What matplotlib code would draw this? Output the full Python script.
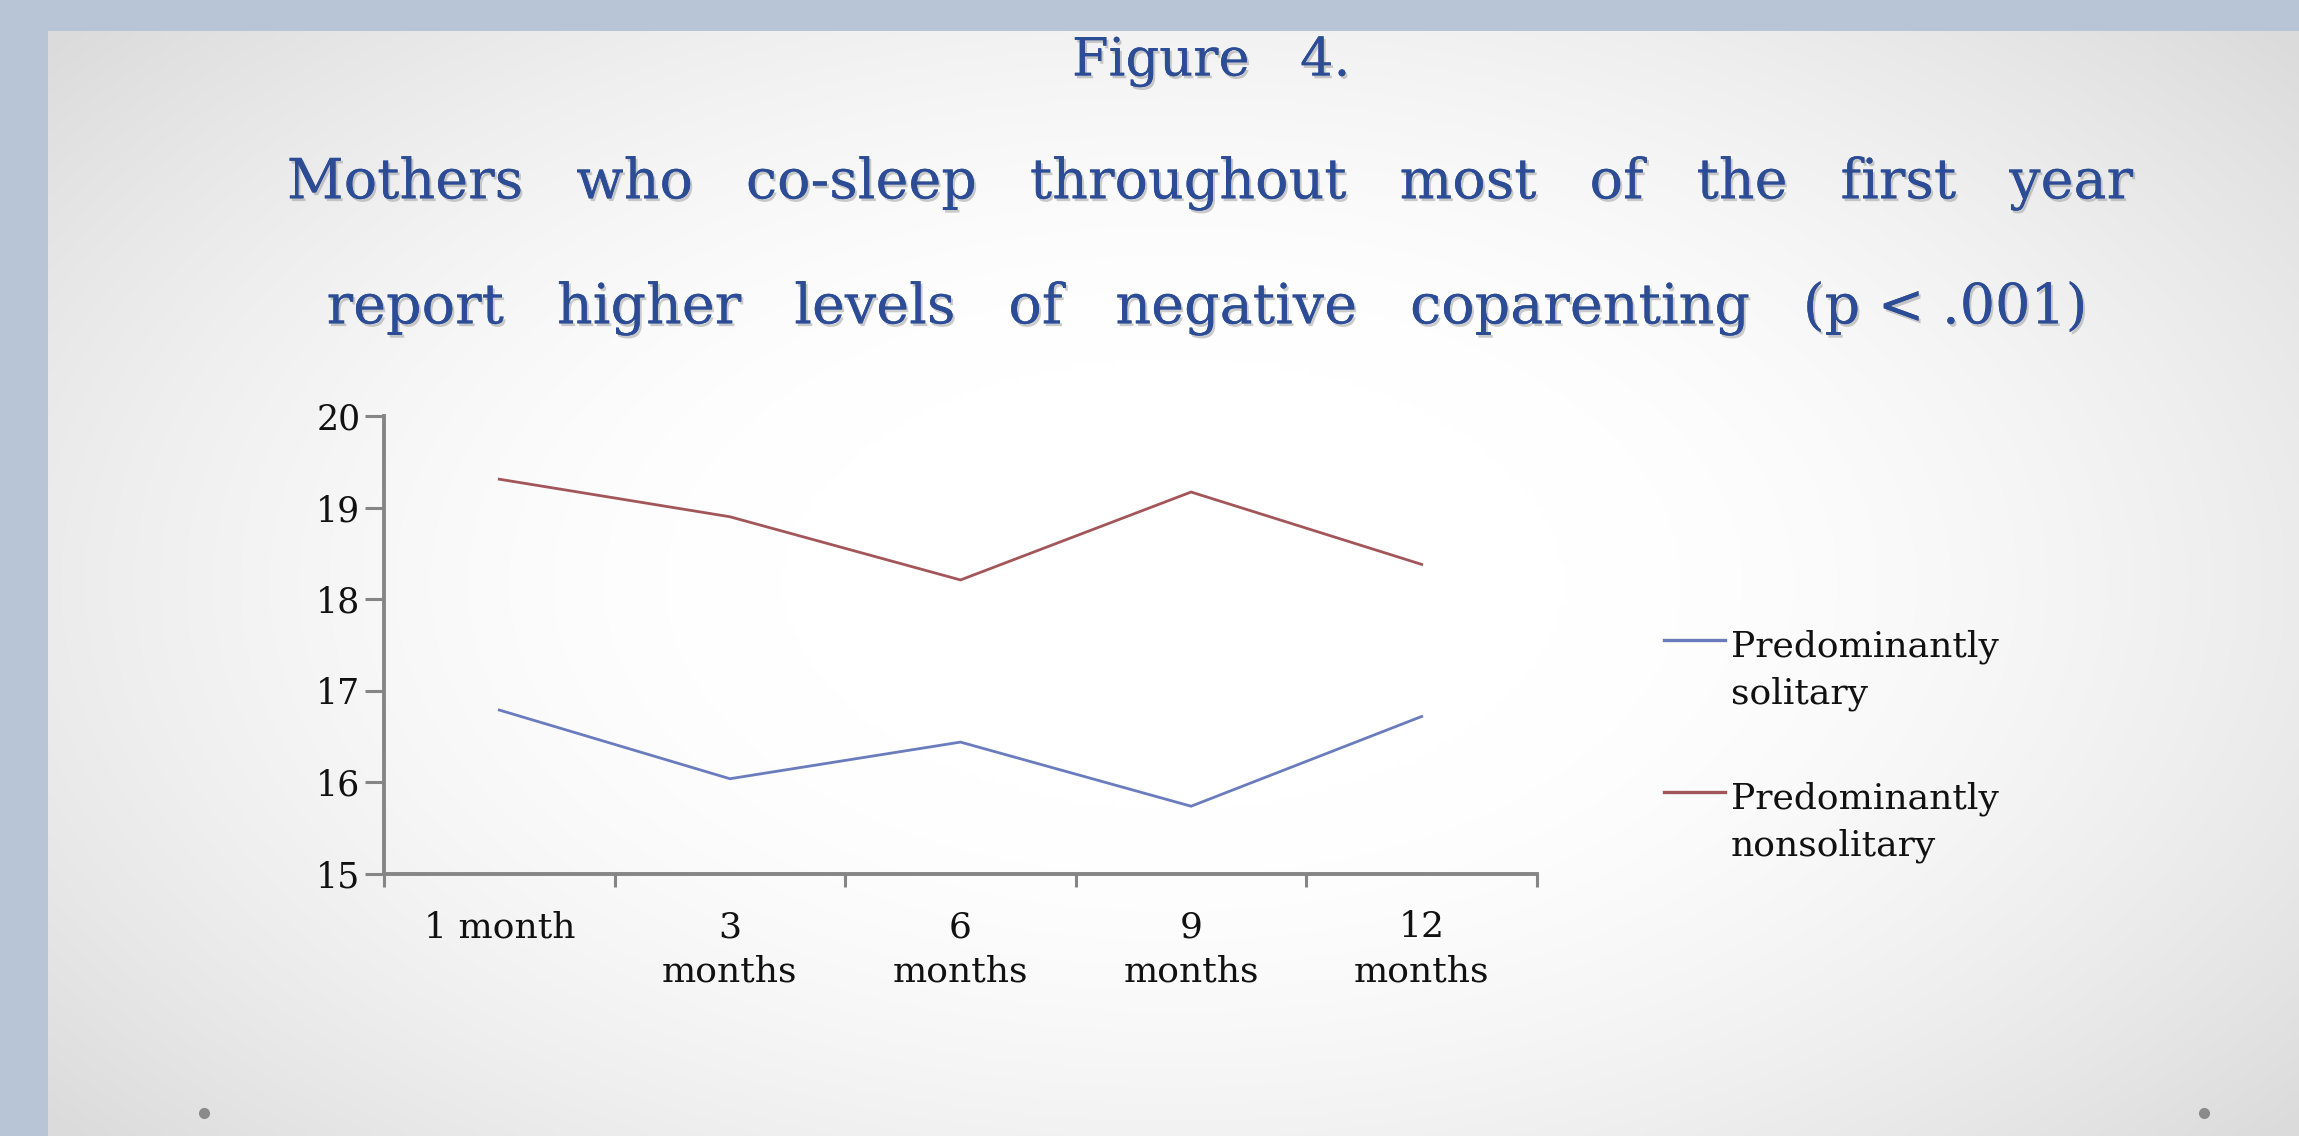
import numpy as np
import matplotlib
matplotlib.use("Agg")
import matplotlib.pyplot as plt
import matplotlib.patheffects as pe
from matplotlib.lines import Line2D
from matplotlib.legend_handler import HandlerLine2D

categories = ["1 month", "3\nmonths", "6\nmonths", "9\nmonths", "12\nmonths"]
solitary = [16.79, 16.04, 16.44, 15.74, 16.72]
nonsolitary = [19.31, 18.90, 18.21, 19.17, 18.38]
series_names = ["Predominantly\nsolitary", "Predominantly\nnonsolitary"]
yticks = [15, 16, 17, 18, 19, 20]

W, H = 2299, 1136
DPI = 100
fig = plt.figure(figsize=(W / DPI, H / DPI), dpi=DPI)
fig.patch.set_facecolor("#b8c5d6")

# slide background with radial gradient
bx0, by_top = 48, 31
bg = fig.add_axes([bx0 / W, 0, 1 - bx0 / W, (H - by_top) / H])
bg.set_axis_off()
gx = np.linspace(-1, 1, 400)
gy = np.linspace(-1, 1, 200)
X, Y = np.meshgrid(gx, gy)
R = np.sqrt((X * 1.0) ** 2 + (Y * 0.85) ** 2)
vals = 1.0 - 0.14 * np.clip((R - 0.35) / 0.95, 0, 1) ** 1.6
img = np.dstack([vals, vals, vals])
bg.imshow(img, aspect="auto", extent=[0, 1, 0, 1], interpolation="bilinear")
bg.set_xlim(0, 1)
bg.set_ylim(0, 1)
# small dots
bg.plot([(204 - bx0) / (W - bx0), (2204 - bx0) / (W - bx0)],
        [(1136 - 1113) / (H - by_top)] * 2, "o", color="#8a8a8a", ms=8, mec="none")

# title
title_color = "#2c4c96"
shadow = [pe.withSimplePatchShadow(offset=(1.5, -2), shadow_rgbFace="#9a9a9a", alpha=0.5), pe.Normal()]
fig.text(1211 / W, 1 - 62 / H, "Figure   4.", ha="center", va="center", fontsize=38,
         family="DejaVu Serif", color=title_color, path_effects=shadow)
fig.text(1208 / W, 1 - 183 / H,
         "Mothers   who   co-sleep   throughout   most   of   the   first   year",
         ha="center", va="center", fontsize=40, family="DejaVu Serif", color=title_color,
         path_effects=shadow)
fig.text(1205 / W, 1 - 308 / H,
         "report   higher   levels   of   negative   coparenting   (p < .001)",
         ha="center", va="center", fontsize=40, family="DejaVu Serif", color=title_color,
         path_effects=shadow)

# chart axes
x0, x1 = 384, 1537
y_top, y_bot = 416, 874
ax = fig.add_axes([x0 / W, 1 - y_bot / H, (x1 - x0) / W, (y_bot - y_top) / H])
ax.patch.set_alpha(0)
xs = np.arange(len(categories))
ax.plot(xs, solitary, color="#6a7cbd", lw=2.0, solid_joinstyle="miter")
ax.plot(xs, nonsolitary, color="#a2565a", lw=2.0, solid_joinstyle="miter")
ax.set_xlim(-0.5, len(categories) - 0.5)
ax.set_ylim(15, 20)
ax.set_yticks(yticks)
ax.set_yticklabels([str(v) for v in yticks])
ax.set_xticks(np.arange(len(categories) + 1) - 0.5)
ax.set_xticklabels([])
ax.set_xticks(xs, minor=True)
ax.set_xticklabels(categories, minor=True)
for s in ["top", "right"]:
    ax.spines[s].set_visible(False)
for s in ["left", "bottom"]:
    ax.spines[s].set_color("#858585")
    ax.spines[s].set_linewidth(2.8)
ax.tick_params(axis="y", which="major", length=14, width=2.2, color="#858585",
               labelsize=25, pad=3)
ax.tick_params(axis="x", which="major", length=9, width=2.2, color="#858585")
ax.tick_params(axis="x", which="minor", length=0, labelsize=26, pad=26)
for lab in ax.get_yticklabels() + ax.get_xticklabels(minor=True):
    lab.set_family("DejaVu Serif")
    lab.set_color("#111111")
for lab in ax.get_xticklabels(minor=True):
    lab.set_linespacing(1.4)
    lab.set_va("top")

# legend: handle aligned with the first text line
LEG_FS = 26
LEG_LS = 1.45


class TopLineHandler(HandlerLine2D):
    def create_artists(self, legend, orig_handle, xdescent, ydescent, width, height,
                       fontsize, trans):
        artists = super().create_artists(legend, orig_handle, xdescent, ydescent,
                                         width, height, fontsize, trans)
        shift = 0.5 * LEG_FS * LEG_LS * 1.2
        for a in artists:
            if isinstance(a, Line2D):
                a.set_ydata(np.asarray(a.get_ydata()) + shift)
        return artists


handles = [Line2D([], [], color="#6a7cbd", lw=2.4), Line2D([], [], color="#a2565a", lw=2.4)]
leg = fig.legend(handles, series_names, loc="upper left",
                 bbox_to_anchor=(1664 / W, 1 - 630 / H), frameon=False,
                 prop={"family": "DejaVu Serif", "size": LEG_FS}, handlelength=1.7,
                 handletextpad=0.15, labelspacing=1.95, borderaxespad=0, borderpad=0,
                 handler_map={Line2D: TopLineHandler()})
for t in leg.get_texts():
    t.set_color("#111111")
    t.set_linespacing(LEG_LS)

fig.savefig("out.png", dpi=DPI)
